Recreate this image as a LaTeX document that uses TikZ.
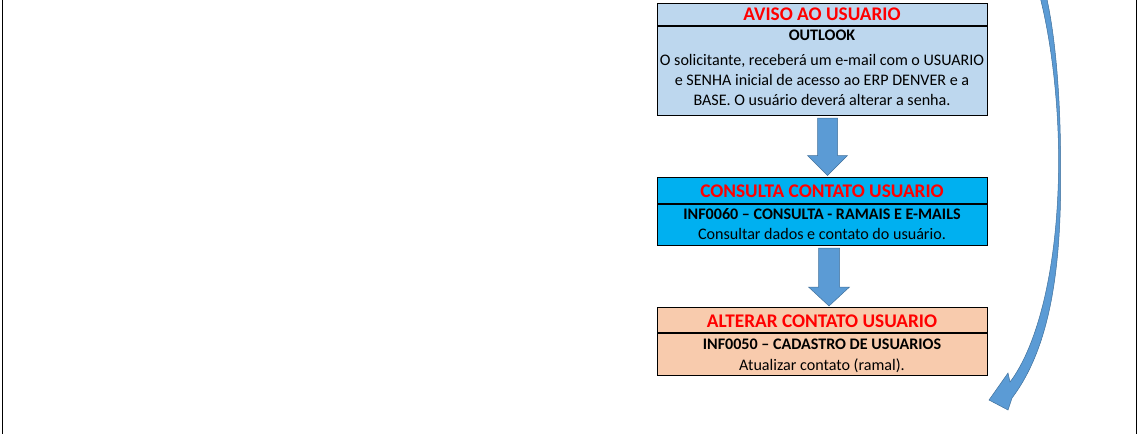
\documentclass[tikz,border=0pt]{standalone}
\usepackage{fontspec}
\setmainfont{Carlito}
\usetikzlibrary{calc}
\definecolor{hdrred}{HTML}{FF0000}
\definecolor{boxA}{HTML}{BDD7EE}
\definecolor{boxB}{HTML}{00B0F0}
\definecolor{boxC}{HTML}{F8CBAD}
\definecolor{arrfill}{HTML}{5B9BD5}
\definecolor{arredge}{HTML}{41719C}
\tikzset{
  cell/.style={draw=black, line width=1pt, inner sep=0pt, minimum width=330pt, anchor=north west},
  hdrtext/.style={anchor=base, inner sep=0pt, text=hdrred, font=\fontsize{19.3}{22}\selectfont\bfseries},
  subtext/.style={anchor=base, inner sep=0pt, font=\fontsize{16.1}{19}\selectfont\bfseries},
  bodytext/.style={anchor=base, inner sep=0pt, font=\fontsize{16.1}{19}\selectfont},
  blockarrow/.style={fill=arrfill, draw=arredge, line width=0.5pt},
  frameline/.style={draw=black, line width=1.2pt}
}
\begin{document}
\begin{tikzpicture}[x=1pt,y=-1pt]
\useasboundingbox (0,0) rectangle (1139,434);
\draw[frameline] (2.5,0) -- (2.5,434);
\draw[frameline] (1136.5,0) -- (1136.5,434);

% box 1
\node[cell, fill=boxA, minimum height=22pt] (h1) at (657,3) {};
\node[cell, fill=boxA, minimum height=89pt] (b1) at (h1.south west) {};
\node[hdrtext] (h1t) at (822,20.7) {AVISO AO USUARIO};
\node[subtext] (b1a) at (822,40.7) {OUTLOOK};
\node[bodytext] (b1b) at (822,65) {O solicitante, receberá um e-mail com o USUARIO};
\node[bodytext] (b1c) at (822,85) {e SENHA inicial de acesso ao ERP DENVER e a};
\node[bodytext] (b1d) at (822,105) {BASE. O usuário deverá alterar a senha.};

% box 2
\node[cell, fill=boxB, minimum height=26pt] (h2) at (657,177) {};
\node[cell, fill=boxB, minimum height=41pt] (b2) at (h2.south west) {};
\node[hdrtext] (h2t) at (822,197.3) {CONSULTA CONTATO USUARIO};
\node[subtext] (b2a) at (822,219.3) {INF0060 – CONSULTA - RAMAIS E E-MAILS};
\node[bodytext] (b2b) at (822,239.3) {Consultar dados e contato do usuário.};

% box 3
\node[cell, fill=boxC, minimum height=25pt] (h3) at (657,307) {};
\node[cell, fill=boxC, minimum height=42pt] (b3) at (h3.south west) {};
\node[hdrtext] (h3t) at (822,327.3) {ALTERAR CONTATO USUARIO};
\node[subtext] (b3a) at (822,349.3) {INF0050 – CADASTRO DE USUARIOS};
\node[bodytext] (b3b) at (822,370) {Atualizar contato (ramal).};

% block arrow 1 -> 2
\coordinate (a1s) at ($(b1.south)+(5,2)$);
\coordinate (a1t) at ($(h2.north)+(5,-1.5)$);
\draw[blockarrow] ($(a1s)+(-10,0)$) -- ($(a1s)+(10,0)$) -- ($(a1t)+(10,-20)$) -- ($(a1t)+(20,-20)$)
  -- (a1t) -- ($(a1t)+(-20,-20)$) -- ($(a1t)+(-10,-20)$) -- cycle;

% block arrow 2 -> 3
\coordinate (a2s) at ($(b2.south)+(6.5,2)$);
\coordinate (a2t) at ($(h3.north)+(6.5,-1)$);
\draw[blockarrow] ($(a2s)+(-10.5,0)$) -- ($(a2s)+(10.5,0)$) -- ($(a2t)+(10.5,-19)$) -- ($(a2t)+(20.5,-19)$)
  -- (a2t) -- ($(a2t)+(-20.5,-19)$) -- ($(a2t)+(-10.5,-19)$) -- cycle;

% curved arrow from above
\coordinate (ctop) at (1043,-3);
\coordinate (ctip) at (989,400);
\draw[blockarrow] ($(ctop)+(-3,0)$) .. controls (1051,40) and (1058.5,100) .. (1058.6,160)
  .. controls (1058.6,265) and (1038,345) .. (1010,382) -- (1008,373) -- (ctip) -- (1008,410) -- (1012,398)
  .. controls (1052,345) and (1062,262) .. (1060.6,160)
  .. controls (1060.4,100) and (1056,40) .. ($(ctop)+(3.5,0)$) -- cycle;
\end{tikzpicture}
\end{document}
